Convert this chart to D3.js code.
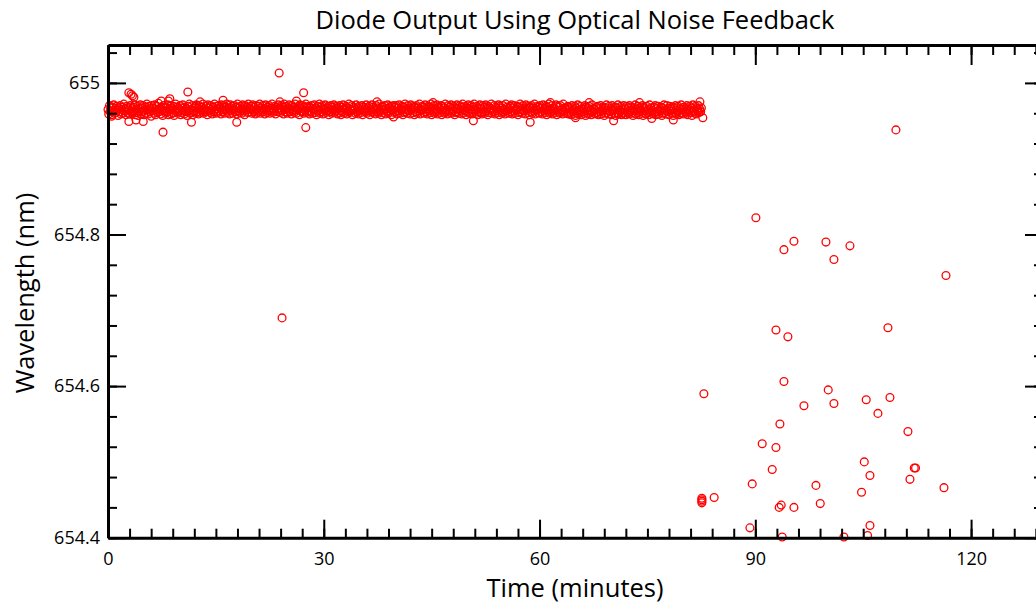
<!DOCTYPE html>
<html>
<head>
<meta charset="utf-8">
<script src="https://cdn.jsdelivr.net/npm/d3@7"></script>
<style>
  body { margin: 0; background: #fff; }
  svg text { font-family: "Open Sans", sans-serif; fill: #000; }
</style>
</head>
<body>
<svg id="chart" width="1036" height="606"></svg>
<script>
// locked laser: one reading every 0.1 min, stored as pm above 654.900 nm
const bandStart = 0;
const bandStep = 0.1;
const bandPm = [
  65,59,70,62,67,58,68,63,71,60,66,61,69,64,57,67,62,70,59,65,68,60,72,63,66,58,69,61,67,64,59,70,62,66,60,68,63,71,58,65,
  61,69,57,66,63,71,59,67,62,70,58,64,68,60,72,65,59,69,62,66,56,70,63,67,60,71,58,65,69,61,73,62,66,59,68,64,57,70,63,67,
  60,68,62,71,58,66,64,70,59,67,61,69,57,65,72,62,68,60,66,63,70,58,67,61,71,64,59,68,62,66,57,69,63,72,60,65,61,70,58,67,
  63,69,60,71,62,67,59,70,65,61,68,63,72,60,66,62,69,64,58,71,63,67,61,70,65,59,68,62,72,64,60,69,66,61,70,63,67,59,71,65,
  62,70,60,68,64,72,61,67,65,59,71,63,69,60,66,64,70,62,68,59,72,63,67,61,69,65,60,71,63,66,58,70,64,68,61,72,62,67,65,69,
  60,71,64,62,68,59,70,65,61,69,63,72,60,67,64,70,62,66,59,71,65,61,68,63,70,60,67,64,72,61,66,63,69,59,68,65,62,71,64,67,
  61,70,63,68,59,72,65,62,69,60,67,64,71,62,66,59,70,63,68,61,72,64,60,67,65,69,58,71,63,66,62,70,60,68,64,72,61,67,63,69,
  59,68,62,70,60,66,64,71,61,67,58,69,63,65,72,60,68,62,70,59,66,64,71,61,67,63,69,58,65,62,70,60,68,64,71,61,66,63,69,59,
  67,61,70,63,58,68,62,71,60,66,64,69,59,67,62,72,61,65,63,70,58,68,64,66,60,71,62,67,59,69,63,65,61,70,58,68,64,66,62,71,
  60,67,63,69,58,65,62,71,61,68,64,66,59,70,62,67,60,72,63,65,58,69,61,68,64,70,59,66,62,71,60,67,63,69,58,65,64,70,61,68,
  62,70,59,67,63,71,60,66,64,69,58,68,61,72,62,65,60,70,63,67,59,71,64,66,61,69,58,68,62,70,60,67,63,72,59,65,64,69,61,68,
  60,71,62,66,59,69,63,68,61,72,58,67,64,70,60,65,62,71,59,68,63,66,61,70,58,69,64,67,60,72,62,65,59,70,63,68,61,71,60,66,
  63,69,58,67,61,71,62,66,60,70,64,68,59,72,61,65,63,69,58,67,62,71,60,66,64,70,59,68,61,72,63,65,60,69,58,67,62,71,61,66,
  59,70,62,68,60,71,63,66,58,69,61,67,64,72,60,65,62,70,59,68,63,66,61,71,58,69,64,67,60,70,62,65,59,72,63,68,61,66,60,69,
  62,71,59,67,63,70,60,66,64,69,58,68,61,72,62,65,60,70,63,67,59,71,64,66,61,69,58,68,62,70,60,67,63,72,59,65,64,69,61,68,
  60,70,62,67,59,71,63,66,61,69,58,68,64,72,60,65,62,70,59,67,63,66,61,71,58,69,64,68,60,70,62,65,59,72,63,67,61,66,60,69,
  59,68,61,66,58,70,62,65,60,69,57,67,63,71,59,64,61,69,58,66,62,65,60,70,57,68,63,67,59,69,61,64,58,71,62,66,60,65,59,68,
  61,69,58,66,62,70,59,65,63,68,57,67,60,71,61,64,59,69,62,66,58,70,63,65,60,68,57,67,61,71,59,64,62,69,58,66,60,70,61,65,
  58,69,61,67,59,70,62,64,60,68,57,66,63,71,59,65,61,69,58,67,62,64,60,70,57,68,63,66,59,69,61,65,58,71,62,67,60,64,59,68,
  61,70,58,66,62,69,59,65,63,68,57,67,60,71,61,64,59,70,62,66,58,69,63,65,60,68,57,67,61,70,59,64,62,69,58,66,60,71,61,65,
  59,68,62,66,60,70,58,65,63,69,61,67,57,71,62,64,60,69,59,66,63,70,61,65,62,67
];

// stray readings while locked (minutes, nm)
const strayTime = [0.5, 2.9, 3.2, 3.4, 3.6, 2.9, 3.9, 4.9, 7.4, 7.65, 8.6, 8.4, 11.1, 11.6, 12.8, 16.0, 17.9,
  23.8, 23.9, 26.2, 27.2, 27.5, 24.2, 37.4, 39.7, 45.2, 50.8, 58.7, 61.5, 65.0, 66.9, 70.3, 73.9, 75.6, 78.6, 82.3, 82.7];
const strayWave = [654.956, 654.987, 654.985, 654.983, 654.981, 654.949, 654.951, 654.949, 654.976, 654.935, 654.979, 654.976, 654.988, 654.948, 654.975, 654.977, 654.948,
  655.013, 654.975, 654.976, 654.987, 654.941, 654.690, 654.975, 654.955, 654.974, 654.950, 654.948, 654.974, 654.954, 654.974, 654.950, 654.974, 654.953, 654.951, 654.975, 654.954];

// after feedback lost (minutes, nm)
const lostTime = [82.85, 82.57, 82.57, 82.57, 82.57, 84.28, 93.98, 100.14, 96.76, 100.93, 105.42, 108.72, 107.05, 111.22,
  93.42, 90.96, 92.87, 105.15, 112.1, 112.28, 105.94, 111.5, 92.35, 89.57, 98.43, 104.77, 116.23, 93.6, 93.32, 95.37,
  99.03, 89.25, 105.94, 93.74, 102.32, 105.61, 90.08, 95.37, 93.98, 99.82, 103.16, 100.93, 116.51, 92.87, 94.53, 108.44, 109.55];
const lostWave = [654.590, 654.452, 654.450, 654.448, 654.446, 654.453, 654.606, 654.595, 654.574, 654.577, 654.582, 654.585, 654.564, 654.540,
  654.550, 654.524, 654.519, 654.500, 654.492, 654.492, 654.482, 654.477, 654.490, 654.471, 654.469, 654.460, 654.466, 654.443, 654.440, 654.440,
  654.445, 654.413, 654.416, 654.401, 654.401, 654.403, 654.822, 654.791, 654.780, 654.790, 654.785, 654.767, 654.746, 654.674, 654.665, 654.677, 654.938];

const xTicks = [0, 30, 60, 90, 120];
const yTicks = [654.4, 654.6, 654.8, 655];
const yTickLabels = ["654.4", "654.6", "654.8", "655"];

const svg = d3.select("#chart");
const plotLeft = 108, plotRight = 1043, plotTop = 45, plotBottom = 537.7;

const x = d3.scaleLinear().domain([0, 130]).range([plotLeft, plotRight]);
const y = d3.scaleLinear().domain([654.4, 655.05]).range([plotBottom, plotTop]);

const points = [];
bandPm.forEach((v, i) => points.push([bandStart + i * bandStep, 654.9 + v / 1000]));
strayTime.forEach((t, i) => points.push([t, strayWave[i]]));
lostTime.forEach((t, i) => points.push([t, lostWave[i]]));

svg.append("g")
  .selectAll("circle")
  .data(points)
  .join("circle")
    .attr("cx", d => x(d[0]))
    .attr("cy", d => y(d[1]))
    .attr("r", 3.9)
    .attr("fill", "none")
    .attr("stroke", "#ff0000")
    .attr("stroke-width", 1.3);

const xMinor = d3.range(0, 131, 3);
const yMinor = d3.range(0, 17).map(i => 654.4 + i * 0.04);

function styleAxis(g, hasLabels) {
  g.selectAll(".tick line").attr("stroke", "#000").attr("stroke-width", 2);
  g.select(".domain").attr("stroke", "#000").attr("stroke-width", 3);
  if (!hasLabels) g.selectAll(".tick text").remove();
}

// minor ticks
svg.append("g").attr("transform", `translate(0,${plotBottom})`)
  .call(d3.axisBottom(x).tickValues(xMinor).tickSize(-9).tickSizeOuter(0).tickFormat(""))
  .call(g => { styleAxis(g, false); g.select(".domain").remove(); });
svg.append("g").attr("transform", `translate(0,${plotTop})`)
  .call(d3.axisTop(x).tickValues(xMinor).tickSize(-10).tickSizeOuter(0).tickFormat(""))
  .call(g => { styleAxis(g, false); g.select(".domain").remove(); });
svg.append("g").attr("transform", `translate(${plotLeft},0)`)
  .call(d3.axisLeft(y).tickValues(yMinor).tickSize(-9).tickSizeOuter(0).tickFormat(""))
  .call(g => { styleAxis(g, false); g.select(".domain").remove(); });
svg.append("g").attr("transform", `translate(${plotRight},0)`)
  .call(d3.axisRight(y).tickValues(yMinor).tickSize(-9).tickSizeOuter(0).tickFormat(""))
  .call(g => { styleAxis(g, false); g.select(".domain").remove(); });

// major ticks and frame
svg.append("g").attr("transform", `translate(0,${plotBottom})`)
  .call(d3.axisBottom(x).tickValues(xTicks).tickSize(-18).tickSizeOuter(0).tickPadding(15).tickFormat(d3.format("d")))
  .call(g => { styleAxis(g, true); g.selectAll(".tick text").attr("font-size", 18).attr("font-family", "Open Sans"); });
svg.append("g").attr("transform", `translate(0,${plotTop})`)
  .call(d3.axisTop(x).tickValues(xTicks).tickSize(-20).tickSizeOuter(0))
  .call(g => styleAxis(g, false));
svg.append("g").attr("transform", `translate(${plotLeft},0)`)
  .call(d3.axisLeft(y).tickValues(yTicks).tickSize(-18).tickSizeOuter(0).tickPadding(8)
    .tickFormat((d, i) => yTickLabels[i]))
  .call(g => { styleAxis(g, true); g.selectAll(".tick text").attr("font-size", 18).attr("font-family", "Open Sans"); });
svg.append("g").attr("transform", `translate(${plotRight},0)`)
  .call(d3.axisRight(y).tickValues(yTicks).tickSize(-18).tickSizeOuter(0))
  .call(g => styleAxis(g, false));

svg.append("text")
  .attr("x", 575).attr("y", 29)
  .attr("text-anchor", "middle")
  .attr("font-size", 25.5)
  .text("Diode Output Using Optical Noise Feedback");

svg.append("text")
  .attr("x", 575).attr("y", 597)
  .attr("text-anchor", "middle")
  .attr("font-size", 25.5)
  .text("Time (minutes)");

svg.append("text")
  .attr("transform", "translate(34,293) rotate(-90)")
  .attr("text-anchor", "middle")
  .attr("font-size", 25.5)
  .text("Wavelength (nm)");
</script>
</body>
</html>
